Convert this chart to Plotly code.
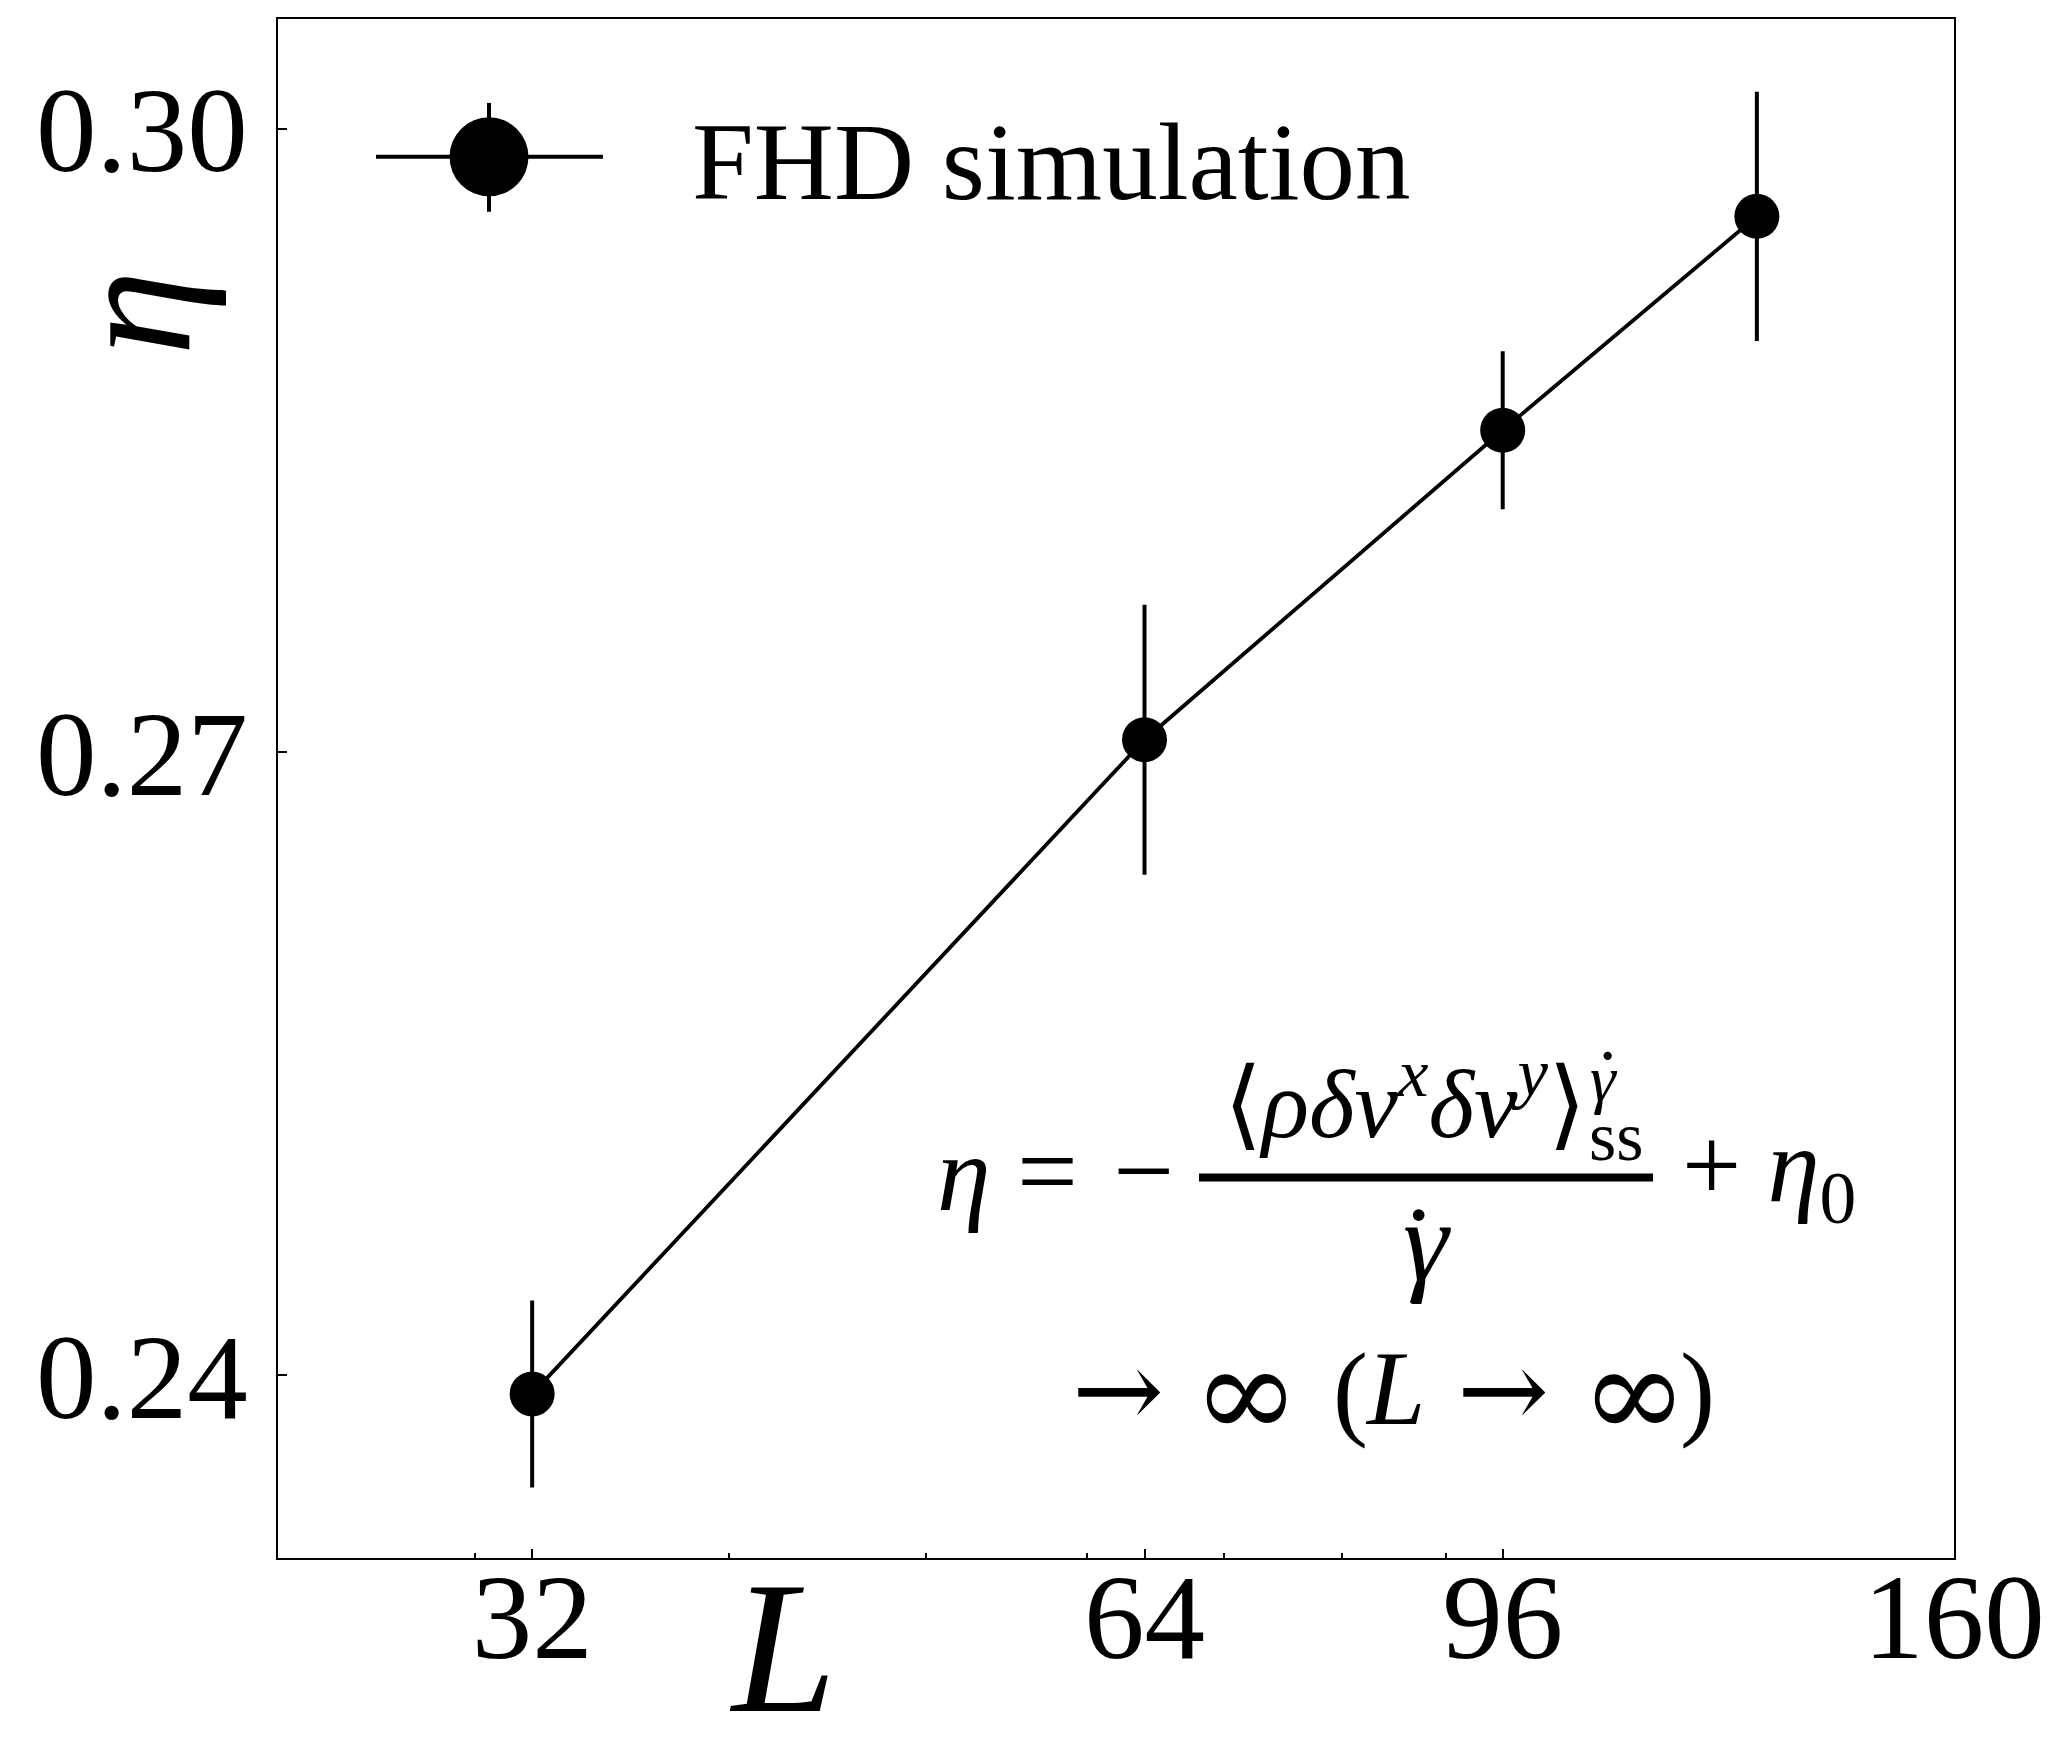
import plotly.graph_objects as go
import math

# ---- data ----
L_vals = [32, 64, 96, 128]
eta_vals = [0.2391, 0.2706, 0.2855, 0.2958]
eta_err = [0.0045, 0.0065, 0.0038, 0.0060]
x_tickvals = [32, 64, 96, 160]
x_ticktext = ["32", "64", "96", "160"]
x_minor = [30, 40, 50, 60, 70, 80, 90]
y_tickvals = [0.24, 0.27, 0.30]
y_ticktext = ["0.24", "0.27", "0.30"]

# page body has an 8px default margin; figure sized to compensate
OFF = 8
W, H = 2056 - OFF, 1737 - OFF
PL, PR, PT, PB = 278, 1954, 17, 1558   # plot area in page pixels
L_M, R_M, T_M, B_M = PL - OFF, (W + OFF) - PR, PT - OFF, (H + OFF) - PB
PW = PR - PL
PH = PB - PT

def px(x):
    return (x - PL) / PW

def py(y):
    return (PB - y) / PH

FONT = "Liberation Serif"
fig = go.Figure()
fig.add_trace(go.Scatter(
    x=L_vals, y=eta_vals, mode="lines+markers",
    line=dict(color="black", width=3.8),
    marker=dict(size=45, color="black"),
    error_y=dict(type="data", array=eta_err, thickness=4, width=0, color="black"),
    showlegend=False,
))

axis_common = dict(showline=True, linecolor="black", linewidth=2, mirror=True,
                   ticks="inside", ticklen=9, tickwidth=2, tickcolor="black",
                   showgrid=False, zeroline=False,
                   tickfont=dict(family=FONT, size=121, color="black"))
fig.update_xaxes(type="log", range=[math.log10(24), math.log10(160)],
                 tickmode="array", tickvals=x_tickvals, ticktext=x_ticktext,
                 minor=dict(tickmode="array", tickvals=x_minor, ticks="inside",
                            ticklen=5, tickwidth=1.5, tickcolor="black"),
                 ticklabelstandoff=-47, **axis_common)
fig.update_yaxes(range=[0.2312, 0.3053], tickmode="array", tickvals=y_tickvals,
                 ticktext=y_ticktext, ticklabelstandoff=4, **axis_common)

ann = []
def add(text, x, y, size, xanchor="center", yanchor="middle", angle=0, family=FONT):
    ann.append(dict(text=text, x=px(x), y=py(y), xref="paper", yref="paper",
                    xanchor=xanchor, yanchor=yanchor, showarrow=False, textangle=angle,
                    font=dict(family=family, size=size, color="black")))

# axis labels
add("<i>η</i>", 131, 312, 172, angle=-90)
add("<i>L</i>", 783, 1648, 188)
# legend
add("FHD simulation", 690, 160, 111, xanchor="left")
# equation, first line
add("<i>η</i>", 964, 1173, 108)
add("=", 1047, 1170, 108)
add("−", 1143, 1170, 108)
add("⟨<i>ρδv</i><sup><i>x</i></sup><i>δv</i><sup><i>y</i></sup>⟩", 1222, 1096, 98, xanchor="left")
add("<i>γ</i>", 1604, 1078, 65)
add("·", 1607, 1055, 70)
add("ss", 1616, 1136, 70)
add("<i>γ</i>", 1427, 1241, 115)
add("·", 1418, 1214, 100)
add("+ <i>η</i><sub>0</sub>", 1680, 1172, 105, xanchor="left")
# second line: → ∞ (L → ∞)
DJ = "DejaVu Serif"
add("→", 1118, 1390, 110, family=DJ)
add("∞", 1246, 1392, 128, family=DJ)
add("(", 1350, 1390, 105)
add("<i>L</i>", 1395, 1388, 105)
add("→", 1503, 1390, 110, family=DJ)
add("∞", 1634, 1392, 128, family=DJ)
add(")", 1697, 1390, 105)

shapes = [
    dict(type="line", xref="paper", yref="paper", x0=px(1199), x1=px(1653),
         y0=py(1177), y1=py(1177), line=dict(color="black", width=8)),
    dict(type="line", xref="paper", yref="paper", x0=px(376), x1=px(603),
         y0=py(155), y1=py(155), line=dict(color="black", width=4)),
    dict(type="line", xref="paper", yref="paper", x0=px(489), x1=px(489),
         y0=py(101), y1=py(210), line=dict(color="black", width=4)),
    dict(type="circle", xref="paper", yref="paper", xsizemode="pixel", ysizemode="pixel",
         xanchor=px(489), yanchor=py(155), x0=-39.5, x1=39.5, y0=-39.5, y1=39.5,
         fillcolor="black", line=dict(width=0)),
]

fig.update_layout(width=W, height=H, margin=dict(l=L_M, r=R_M, t=T_M, b=B_M),
                  plot_bgcolor="white", paper_bgcolor="white",
                  annotations=ann, shapes=shapes, showlegend=False)
fig.write_html("out.html")
